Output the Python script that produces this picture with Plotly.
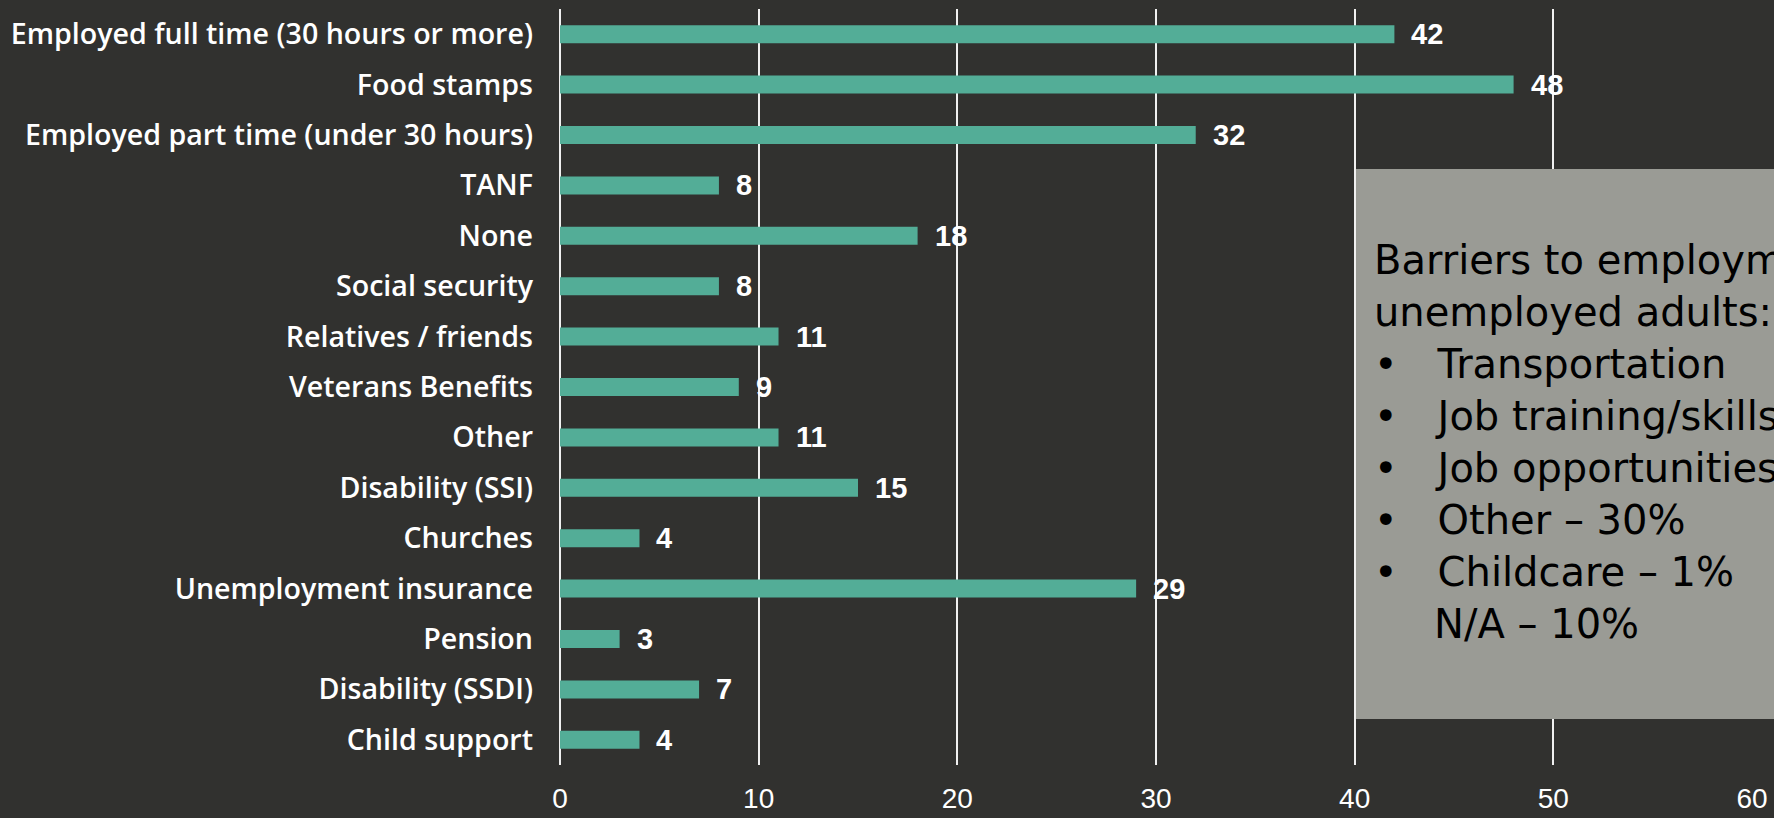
import plotly.graph_objects as go

categories = [
    "Employed full time (30 hours or more)",
    "Food stamps",
    "Employed part time (under 30 hours)",
    "TANF",
    "None",
    "Social security",
    "Relatives / friends",
    "Veterans Benefits",
    "Other",
    "Disability (SSI)",
    "Churches",
    "Unemployment insurance",
    "Pension",
    "Disability (SSDI)",
    "Child support",
]
values = [42, 48, 32, 8, 18, 8, 11, 9, 11, 15, 4, 29, 3, 7, 4]
x_ticks = [0, 10, 20, 30, 40, 50, 60]

note_header = ["Barriers to employment for", "unemployed adults:"]
note_items = [
    "Transportation",
    "Job training/skills",
    "Job opportunities",
    "Other \u2013 30%",
    "Childcare \u2013 1%",
]
note_tail = "N/A \u2013 10%"

BG = "#31312f"
BAR = "#53ad97"
BOX = "#9a9b95"

W, H = 1774, 818
ML, MR, MT, MB = 560, 22, 9, 53
PW = W - ML - MR
PH = H - MT - MB


def px_x(p):
    return (p - ML) / PW


def px_y(p):
    return (H - MB - p) / PH


fig = go.Figure()
fig.add_trace(
    go.Bar(
        x=values,
        y=categories,
        orientation="h",
        marker=dict(color=BAR, line=dict(width=0)),
        hoverinfo="x+y",
    )
)

annotations = []
for c, v in zip(categories, values):
    annotations.append(
        dict(
            x=v, y=c, xref="x", yref="y", text=str(v), showarrow=False,
            xanchor="left", yanchor="middle", xshift=15,
            font=dict(family="Liberation Sans, Arial, sans-serif", size=29,
                      color="white", weight="bold"),
        )
    )

# note box
shapes = [
    dict(type="rect", xref="paper", yref="paper",
         x0=px_x(1356), x1=px_x(1800), y0=px_y(719), y1=px_y(169),
         fillcolor=BOX, line=dict(width=0), layer="above")
]

BULLET = "\u2022\u2003"
INDENT = "\u2003\u2002"
note_lines = list(note_header) + [BULLET + t for t in note_items] + [INDENT + note_tail]
annotations.append(
    dict(x=px_x(1372), y=px_y(442), xref="paper", yref="paper",
         text="<br>".join(note_lines), showarrow=False, align="left",
         xanchor="left", yanchor="middle",
         font=dict(family="DejaVu Sans, Noto Sans, sans-serif", size=40, color="black"))
)

fig.update_layout(
    width=W, height=H,
    margin=dict(l=ML, r=MR, t=MT, b=MB, pad=0, autoexpand=False),
    paper_bgcolor=BG, plot_bgcolor=BG,
    bargap=0.643,
    showlegend=False,
    shapes=shapes,
    annotations=annotations,
    xaxis=dict(
        range=[0, 60], tickvals=x_ticks, showgrid=True,
        gridcolor="#f0f0f0", gridwidth=1.5,
        zeroline=True, zerolinecolor="#f0f0f0", zerolinewidth=1.5,
        showline=False, ticks="", ticklabelstandoff=14, automargin=False,
        tickfont=dict(family="Liberation Sans, Arial, sans-serif", size=28, color="white"),
        fixedrange=True,
    ),
    yaxis=dict(
        autorange="reversed", showgrid=False, zeroline=False, showline=False,
        ticks="", ticklabelstandoff=26, automargin=False,
        tickfont=dict(family="Open Sans, Liberation Sans, sans-serif", size=28.6,
                      color="white", weight=600),
        fixedrange=True,
    ),
)

fig.write_html(
    "out.html",
    config={"displayModeBar": False},
    post_script="document.body.style.margin='0';document.body.style.overflow='hidden';",
)
